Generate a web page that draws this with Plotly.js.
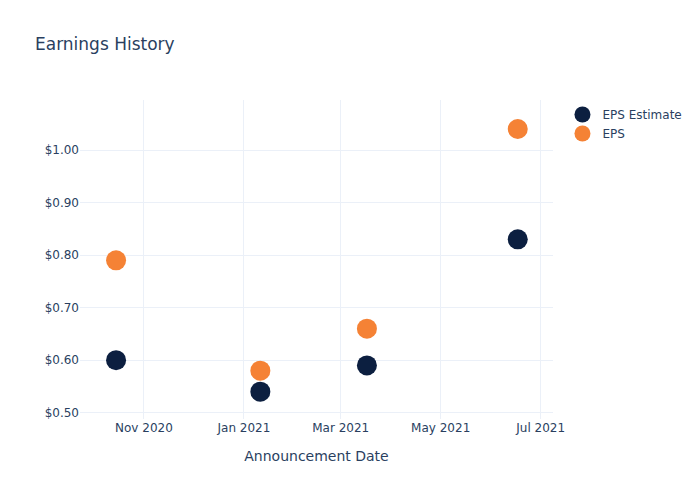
<!DOCTYPE html>
<html>
<head>
<meta charset="utf-8">
<script src="https://cdn.plot.ly/plotly-3.0.1.min.js"></script>
<style>html,body{margin:0;padding:0;background:#fff}#chart{width:700px;height:500px}</style>
</head>
<body>
<div id="chart"></div>
<script>
const dates = ["2020-10-15", "2021-01-11", "2021-03-17", "2021-06-17"];
const epsEstimate = [0.60, 0.54, 0.59, 0.83];
const epsActual = [0.79, 0.58, 0.66, 1.04];

const traces = [
  {
    x: dates, y: epsEstimate, name: "EPS Estimate", type: "scatter", mode: "markers",
    marker: {color: "#0c1f40", size: 20}
  },
  {
    x: dates, y: epsActual, name: "EPS", type: "scatter", mode: "markers",
    marker: {color: "#f58235", size: 20}
  }
];

const layout = {
  template: "plotly_white",
  width: 700, height: 500,
  margin: {l: 80, r: 147, t: 100, b: 81},
  paper_bgcolor: "#ffffff", plot_bgcolor: "#ffffff",
  font: {family: "'DejaVu Sans', verdana, sans-serif", color: "#2a3f5f"},
  title: {text: "Earnings History", x: 0.05, font: {size: 17}},
  xaxis: {
    title: {text: "Announcement Date", standoff: 17},
    type: "date",
    range: ["2020-09-23", "2021-07-08 12:00"],
    gridcolor: "#EBF0F8", zeroline: false, showline: false
  },
  yaxis: {
    range: [0.488, 1.0952],
    tickprefix: "$", tickformat: ".2f", dtick: 0.1,
    gridcolor: "#EBF0F8", zeroline: false, showline: false
  },
  legend: {font: {size: 12}},
  showlegend: true
};

Plotly.newPlot("chart", traces, layout, {displayModeBar: false});
</script>
</body>
</html>
